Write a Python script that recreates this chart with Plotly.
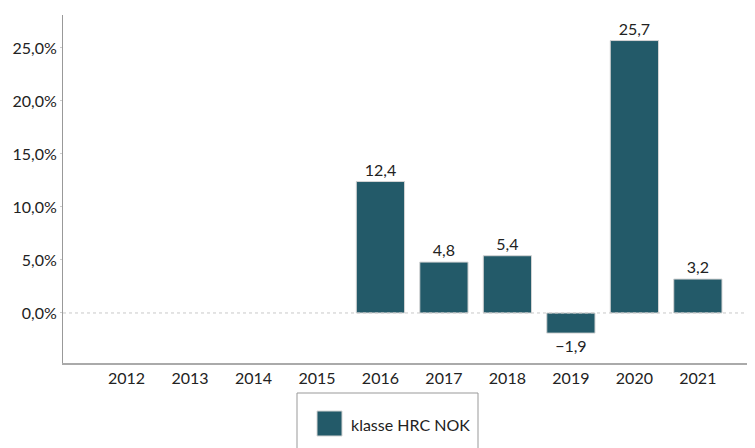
import plotly.graph_objects as go

years = ["2012", "2013", "2014", "2015", "2016", "2017", "2018", "2019", "2020", "2021"]
values = [None, None, None, None, 12.4, 4.8, 5.4, -1.9, 25.7, 3.2]
ytick_vals = [0, 5, 10, 15, 20, 25]
ytick_text = ["0,0%", "5,0%", "10,0%", "15,0%", "20,0%", "25,0%"]
series_name = "klasse HRC NOK"

labels = ["" if v is None else f"{v:.1f}".replace(".", ",").replace("-", "\u2212") for v in values]

BAR = "#235a69"
FONT = "Lato, 'Open Sans', sans-serif"

# page has an 8px body margin: work in page pixels and convert
OFF = 8
W, H = 755 - OFF, 448 - OFF
L, T = 63 - OFF, 15 - OFF
AXIS_Y = 363 - OFF
B = H - AXIS_Y
pw, ph = W - L, H - T - B

def px(x):
    return (x - OFF - L) / pw

def py(y):
    return (AXIS_Y - (y - OFF)) / ph

fig = go.Figure()
fig.add_trace(go.Bar(
    x=years, y=values, name=series_name,
    marker=dict(color=BAR, line=dict(color="#d4d4d4", width=1)),
    width=0.76,
    text=labels, texttemplate="%{text}", textposition="outside",
    textfont=dict(size=16, color="#222", family=FONT),
    cliponaxis=False, showlegend=False,
))

shapes = [
    dict(type="line", xref="paper", yref="y", x0=0, x1=1, y0=0, y1=0,
         line=dict(color="#c8c8c8", width=1, dash="dot")),
    dict(type="rect", xref="paper", yref="paper", x0=px(297), x1=px(478), y0=py(393), y1=py(470),
         line=dict(color="#999", width=1), fillcolor="rgba(0,0,0,0)"),
    dict(type="rect", xref="paper", yref="paper", x0=px(317), x1=px(342), y0=py(411), y1=py(436),
         line=dict(color="#d4d4d4", width=1), fillcolor=BAR),
]

fig.update_layout(
    template="none",
    width=W, height=H,
    margin=dict(l=L, r=0, t=T, b=B),
    plot_bgcolor="white", paper_bgcolor="white",
    bargap=0.24,
    font=dict(family=FONT, size=16, color="#222"),
    shapes=shapes,
    annotations=[dict(xref="paper", yref="paper", x=px(349), y=py(424), text=series_name,
                      showarrow=False, xanchor="left", yanchor="middle",
                      font=dict(size=16, color="#222", family=FONT))],
    xaxis=dict(type="category", range=[-1.0, 9.9], showgrid=False, zeroline=False, automargin=False,
               showline=True, linecolor="#aaa", linewidth=2, ticks="", tickfont=dict(size=16)),
    yaxis=dict(range=[-4.72, 28.11], tickvals=ytick_vals, ticktext=ytick_text, automargin=False,
               showgrid=False, zeroline=False, showline=True, linecolor="#999", linewidth=1,
               ticks="outside", ticklen=2, tickcolor="#ccc", tickfont=dict(size=16)),
)

fig.write_html("out.html")
